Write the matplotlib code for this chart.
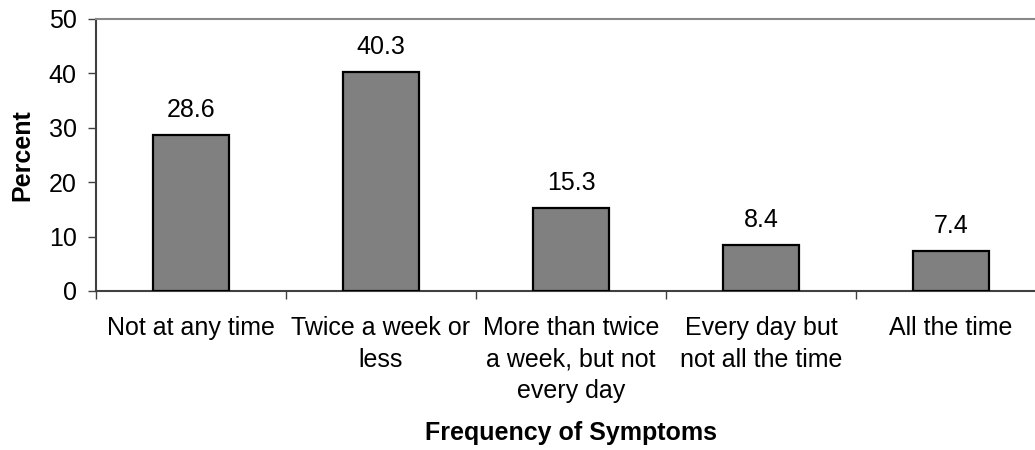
import matplotlib

matplotlib.use("Agg")
import matplotlib.pyplot as plt
import numpy as np

categories = [
    "Not at any time",
    "Twice a week or\nless",
    "More than twice\na week, but not\nevery day",
    "Every day but\nnot all the time",
    "All the time",
]
percent = [28.6, 40.3, 15.3, 8.4, 7.4]
y_ticks = [0, 10, 20, 30, 40, 50]

plt.rcParams["font.family"] = ["Liberation Sans", "DejaVu Sans"]
FS = 18

fig = plt.figure(figsize=(10.35, 4.5), dpi=100)
# plot area runs a little past the right edge, as in the original
ax = fig.add_axes([96 / 1035, 159 / 450, 950 / 1035, 272 / 450])

x = np.arange(len(categories))
ax.bar(x, percent, width=0.405, color="#808080", edgecolor="black", linewidth=1.6, zorder=3)

for xi, v in zip(x, percent):
    ax.annotate(f"{v}", (xi, v), xytext=(0, 13), textcoords="offset points",
                ha="center", va="baseline", fontsize=FS)

ax.set_xlim(-0.5, len(categories) - 0.5)
ax.set_ylim(0, 50)

ax.set_yticks(y_ticks)
ax.set_yticklabels([str(t) for t in y_ticks], fontsize=FS)
ax.tick_params(axis="y", direction="out", length=6, width=1, color="#404040", pad=8)

# boundaries get the tick marks, centers get the labels
ax.set_xticks(np.arange(-0.5, len(categories), 1.0))
ax.set_xticklabels([])
ax.set_xticks(x, minor=True)
ax.set_xticklabels(categories, minor=True, fontsize=FS, linespacing=1.4)
ax.tick_params(axis="x", which="major", direction="out", length=6, width=1, color="#404040")
ax.tick_params(axis="x", which="minor", length=0, pad=18)

for side in ["left", "bottom"]:
    ax.spines[side].set_color("#404040")
    ax.spines[side].set_linewidth(1.5)
ax.spines["top"].set_color("#888888")
ax.spines["top"].set_linewidth(1.5)
ax.spines["right"].set_visible(False)

ax.set_ylabel("Percent", fontsize=FS, fontweight="bold", labelpad=10)
ax.set_xlabel("Frequency of Symptoms", fontsize=FS, fontweight="bold", labelpad=13)

fig.savefig("out.png", dpi=100)
plt.close(fig)
